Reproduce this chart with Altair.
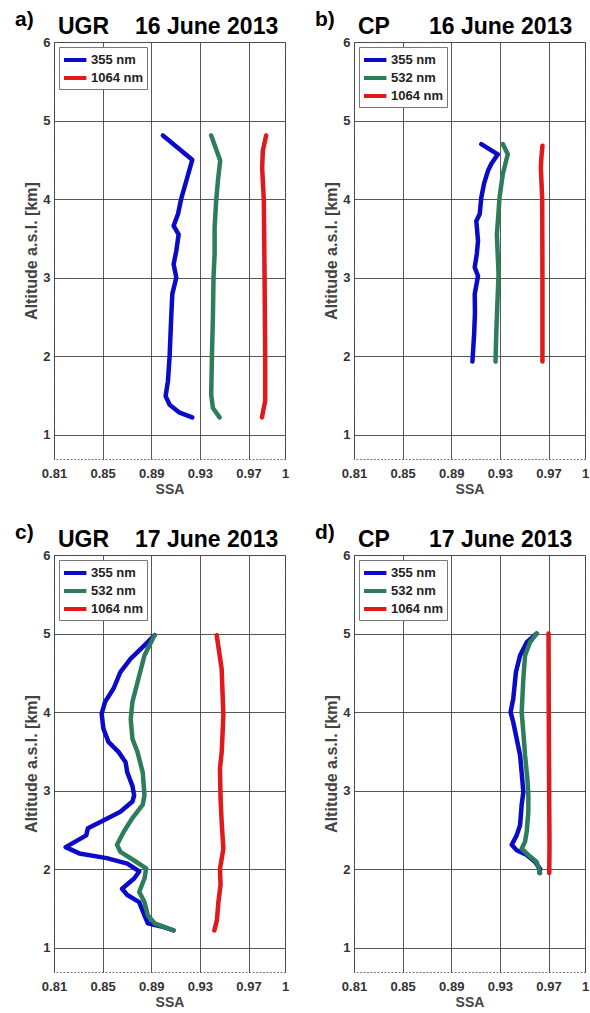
import altair as alt
import pandas as pd

# ---------------- data ----------------
SERIES = ["355 nm", "532 nm", "1064 nm"]
SERIES_COLORS = ["#0A0AC8", "#2E7D5A", "#E0191B"]
X_TICKS = [0.81, 0.85, 0.89, 0.93, 0.97, 1.0]
Y_TICKS = [1, 2, 3, 4, 5, 6]

# a) UGR 16 June 2013
A_355_SSA = [0.8996, 0.9237, 0.9188, 0.9147, 0.9120, 0.9084, 0.9125, 0.9106, 0.9084, 0.9106,
             0.9073, 0.9064, 0.9051, 0.9037, 0.9018, 0.9051, 0.9133, 0.9237]
A_355_ALT = [4.81, 4.50, 4.23, 4.01, 3.81, 3.66, 3.55, 3.34, 3.17, 3.00,
             2.79, 2.49, 2.00, 1.68, 1.49, 1.38, 1.28, 1.22]
A_532_SSA = [0.9393, 0.9467, 0.9448, 0.9434, 0.9421, 0.9421, 0.9412, 0.9407, 0.9399, 0.9393, 0.9407, 0.9462]
A_532_ALT = [4.81, 4.49, 4.23, 3.98, 3.64, 3.30, 3.00, 2.49, 2.00, 1.51, 1.34, 1.22]
A_1064_SSA = [0.9845, 0.9818, 0.9812, 0.9826, 0.9832, 0.9837, 0.9837, 0.9810]
A_1064_ALT = [4.81, 4.62, 4.40, 3.98, 3.00, 2.00, 1.43, 1.22]

# b) CP 16 June 2013
B_355_SSA = [0.9147, 0.9283, 0.9230, 0.9202, 0.9170, 0.9147, 0.9134, 0.9106, 0.9120, 0.9110,
             0.9093, 0.9120, 0.9093, 0.9095, 0.9088, 0.9074]
B_355_ALT = [4.70, 4.57, 4.45, 4.36, 4.20, 4.02, 3.81, 3.72, 3.47, 3.30,
             3.13, 3.02, 2.79, 2.55, 2.28, 1.93]
B_532_SSA = [0.9324, 0.9365, 0.9345, 0.9324, 0.9297, 0.9285, 0.9275, 0.9289, 0.9280, 0.9270, 0.9264]
B_532_ALT = [4.70, 4.57, 4.45, 4.32, 4.02, 3.75, 3.55, 3.04, 2.70, 2.28, 1.93]
B_1064_SSA = [0.9650, 0.9640, 0.9637, 0.9648, 0.9650, 0.9650]
B_1064_ALT = [4.68, 4.50, 4.40, 4.00, 3.00, 1.93]

# c) UGR 17 June 2013
C_355_SSA = [0.8928, 0.8844, 0.8731, 0.8646, 0.8590, 0.8520, 0.8492, 0.8506, 0.8548, 0.8632,
             0.8689, 0.8703, 0.8745, 0.8759, 0.8745, 0.8646, 0.8506, 0.8379, 0.8365, 0.8196,
             0.8308, 0.8534, 0.8703, 0.8801, 0.8759, 0.8660, 0.8703, 0.8801, 0.8844, 0.8872,
             0.8985, 0.9083]
C_355_ALT = [4.98, 4.85, 4.68, 4.51, 4.30, 4.13, 3.98, 3.79, 3.62, 3.49,
             3.36, 3.23, 3.06, 2.94, 2.86, 2.73, 2.62, 2.52, 2.43, 2.28,
             2.20, 2.14, 2.07, 1.97, 1.88, 1.75, 1.67, 1.58, 1.41, 1.31,
             1.27, 1.22]
C_532_SSA = [0.8928, 0.8844, 0.8787, 0.8745, 0.8731, 0.8745, 0.8787, 0.8830, 0.8844, 0.8830,
             0.8745, 0.8675, 0.8618, 0.8646, 0.8759, 0.8858, 0.8844, 0.8801, 0.8844, 0.8872,
             0.8928, 0.9083]
C_532_ALT = [4.98, 4.72, 4.38, 4.13, 3.91, 3.66, 3.49, 3.23, 2.94, 2.82,
             2.65, 2.48, 2.31, 2.22, 2.11, 2.01, 1.88, 1.71, 1.58, 1.41,
             1.31, 1.22]
C_1064_SSA = [0.9438, 0.9460, 0.9479, 0.9493, 0.9480, 0.9465, 0.9470, 0.9479, 0.9493, 0.9465,
              0.9470, 0.9452, 0.9440, 0.9419]
C_1064_ALT = [4.98, 4.75, 4.55, 3.96, 3.50, 3.28, 2.90, 2.60, 2.26, 2.00,
              1.80, 1.58, 1.35, 1.22]

# d) CP 17 June 2013
D_355_SSA = [0.9603, 0.9521, 0.9466, 0.9432, 0.9410, 0.9388, 0.9410, 0.9438, 0.9466, 0.9479,
             0.9493, 0.9479, 0.9466, 0.9438, 0.9397, 0.9438, 0.9521, 0.9590, 0.9631, 0.9626]
D_355_ALT = [5.00, 4.89, 4.72, 4.51, 4.17, 4.00, 3.87, 3.66, 3.45, 3.23,
             2.98, 2.82, 2.56, 2.43, 2.31, 2.24, 2.18, 2.09, 2.00, 1.95]
D_532_SSA = [0.9603, 0.9548, 0.9507, 0.9493, 0.9479, 0.9493, 0.9507, 0.9526, 0.9534, 0.9534,
             0.9521, 0.9507, 0.9479, 0.9534, 0.9603, 0.9631]
D_532_ALT = [5.00, 4.89, 4.72, 4.43, 4.00, 3.74, 3.45, 3.15, 2.94, 2.73,
             2.48, 2.35, 2.26, 2.18, 2.09, 1.95]
D_1064_SSA = [0.9700, 0.9702, 0.9705, 0.9708, 0.9706]
D_1064_ALT = [5.00, 4.00, 3.00, 2.30, 1.95]

FONT = "Liberation Sans"


def frame(parts):
    rows = []
    for name, ssa, alt_km in parts:
        for i, (s, a) in enumerate(zip(ssa, alt_km)):
            rows.append({"series": name, "ssa": s, "alt": a, "i": i})
    return pd.DataFrame(rows)


def label(text, dx, dy, size):
    return alt.Chart(alt.Data(values=[{"t": text}])).mark_text(
        align="left", baseline="top", font=FONT, fontSize=size, fontWeight="bold", color="black"
    ).encode(x=alt.value(dx), y=alt.value(dy), text="t:N")


def panel(df, letter, site, date, date_dx, legend_values):
    lines = alt.Chart(df).mark_line(
        strokeWidth=4.5, strokeCap="round", strokeJoin="round", clip=True
    ).encode(
        x=alt.X("ssa:Q",
                scale=alt.Scale(domain=[0.81, 1.0], nice=False, zero=False),
                axis=alt.Axis(values=X_TICKS, format=".2~f", title="SSA", labelFlush=False)),
        y=alt.Y("alt:Q",
                scale=alt.Scale(domain=[0.69, 6.0], nice=False, zero=False),
                axis=alt.Axis(values=Y_TICKS, format="d", title="Altitude a.s.l. [km]",
                              labelFlush=False)),
        color=alt.Color("series:N",
                        scale=alt.Scale(domain=SERIES, range=SERIES_COLORS),
                        legend=alt.Legend(values=legend_values, title=None, orient="top-left",
                                          offset=5, padding=3, strokeColor="#777",
                                          fillColor="white", labelFont=FONT, labelFontSize=13,
                                          labelFontWeight="bold", labelColor="#222",
                                          symbolType="M-1,0H1.8", symbolSize=256,
                                          symbolStrokeWidth=4, labelOffset=9, rowPadding=-2)),
        detail="series:N",
        order="i:Q",
    )
    return alt.layer(
        lines,
        label(letter, -39, -33, 21),
        label(site, 4, -26, 23),
        label(date, date_dx, -26, 23),
    ).properties(width=231, height=417).resolve_scale(color="independent")


pa = panel(frame([("355 nm", A_355_SSA, A_355_ALT), ("532 nm", A_532_SSA, A_532_ALT),
                  ("1064 nm", A_1064_SSA, A_1064_ALT)]),
           "a)", "UGR", "16 June 2013", 81, ["355 nm", "1064 nm"])
pb = panel(frame([("355 nm", B_355_SSA, B_355_ALT), ("532 nm", B_532_SSA, B_532_ALT),
                  ("1064 nm", B_1064_SSA, B_1064_ALT)]),
           "b)", "CP", "16 June 2013", 75, SERIES)
pc = panel(frame([("355 nm", C_355_SSA, C_355_ALT), ("532 nm", C_532_SSA, C_532_ALT),
                  ("1064 nm", C_1064_SSA, C_1064_ALT)]),
           "c)", "UGR", "17 June 2013", 81, SERIES)
pd_ = panel(frame([("355 nm", D_355_SSA, D_355_ALT), ("532 nm", D_532_SSA, D_532_ALT),
                   ("1064 nm", D_1064_SSA, D_1064_ALT)]),
            "d)", "CP", "17 June 2013", 75, SERIES)

row1 = alt.hconcat(pa, pb, spacing=24).resolve_legend(color="independent").resolve_scale(color="independent")
row2 = alt.hconcat(pc, pd_, spacing=24).resolve_legend(color="independent").resolve_scale(color="independent")

chart = alt.vconcat(row1, row2, spacing=24).resolve_legend(color="independent").resolve_scale(
    color="independent"
).properties(
    padding={"left": 14, "top": 8, "right": 0, "bottom": 0},
    background="white",
).configure_view(
    stroke="#777", strokeWidth=1, strokeDash=[2, 1.5]
).configure_axis(
    grid=True, gridColor="#3a3a3a", gridWidth=1, gridOpacity=0.85,
    domain=False, ticks=False,
    labelFont=FONT, labelFontSize=13, labelFontWeight="bold", labelColor="#333",
    titleFont=FONT, titleFontWeight="bold", titleColor="#444",
).configure_axisX(
    labelPadding=8, titlePadding=2, titleFontSize=14,
).configure_axisY(
    labelPadding=4, titlePadding=3, titleFontSize=16,
)

chart.save("out.html", embed_options={"renderer": "svg", "actions": False})
